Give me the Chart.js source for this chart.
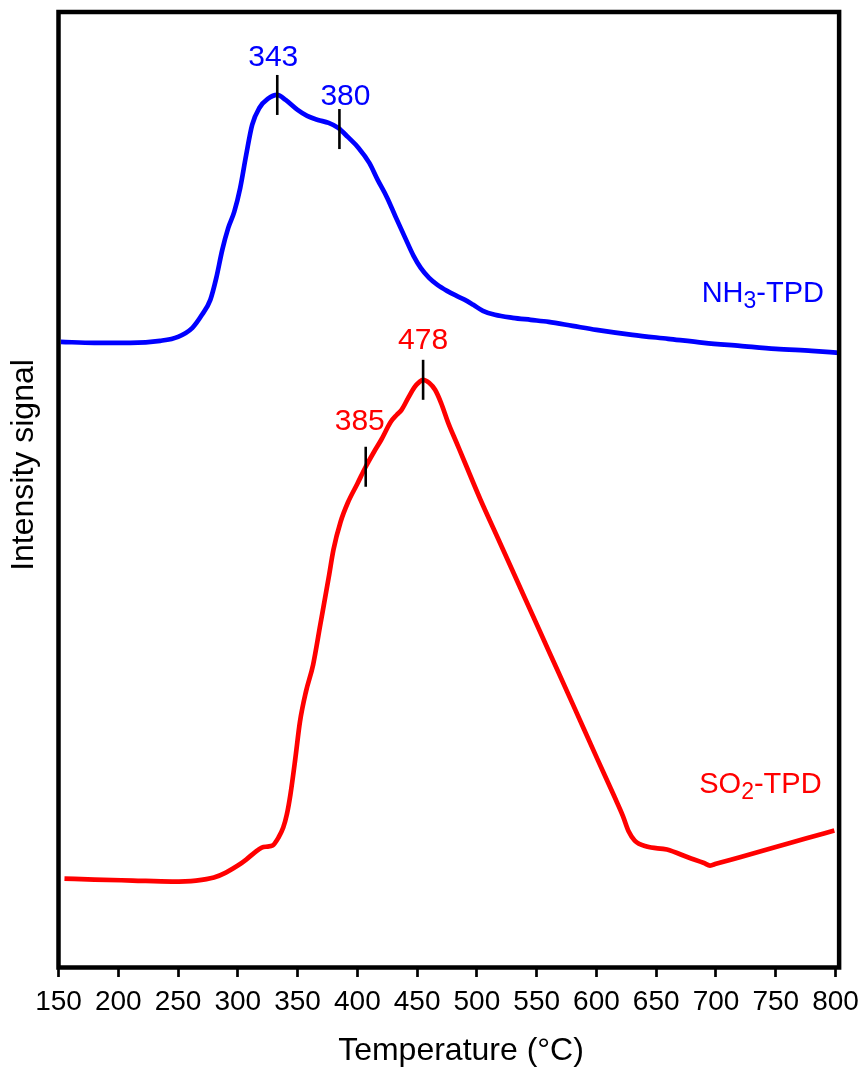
<!DOCTYPE html>
<html>
<head>
<meta charset="utf-8">
<script src="https://cdn.jsdelivr.net/npm/chart.js@4.4.1/dist/chart.umd.min.js"></script>
<style>
  html, body { margin: 0; padding: 0; background: #fff; }
  #wrap { width: 867px; height: 1072px; }
</style>
</head>
<body>
<div id="wrap"><canvas id="tpdChart" width="867" height="1072"></canvas></div>
<script>
// NH3-TPD trace (temperature in °C, signal in arbitrary units)
const nh3Temp = [152, 180, 210, 235, 250, 262, 270, 277, 282, 287, 292, 297, 302, 307, 312, 318, 325, 333,
  340, 350, 358, 367, 376, 384, 392, 401, 410, 417, 425, 432, 440, 447, 453, 460, 467, 475, 483, 490, 497,
  505, 515, 530, 545, 560, 580, 600, 630, 660, 690, 720, 750, 780, 803];
const nh3Signal = [62.6, 62.5, 62.5, 62.7, 63.1, 64.0, 65.3, 66.8, 69.0, 71.8, 74.0, 75.6, 78.0, 81.3, 84.3, 86.0, 86.9, 87.3,
  86.8, 85.8, 85.2, 84.8, 84.5, 84.0, 83.1, 82.0, 80.5, 78.8, 77.0, 75.1, 73.0, 71.2, 70.0, 69.0, 68.3, 67.7, 67.2, 66.8, 66.3,
  65.7, 65.3, 65.0, 64.8, 64.6, 64.2, 63.8, 63.3, 62.9, 62.5, 62.2, 61.9, 61.7, 61.5];

// SO2-TPD trace
const so2Temp = [155, 180, 212, 245, 265, 280, 290, 300, 307, 314, 320, 325, 329, 334, 338, 341, 344, 348, 352, 357,
  363, 369, 376, 380, 386, 392, 400, 407, 414, 420, 428, 433, 437, 443, 448, 452, 455, 460, 465, 470, 476, 483,
  490, 503, 517, 540, 560, 580, 601, 615, 622, 627, 632, 642, 659, 677, 690, 695, 700, 720, 750, 775, 799];
const so2Signal = [8.9, 8.8, 8.7, 8.6, 8.7, 9.0, 9.5, 10.2, 10.8, 11.5, 12.0, 12.1, 12.2, 13.0, 14.0, 15.3, 17.3, 20.8, 24.6, 27.6,
  30.3, 34.3, 39.0, 41.8, 44.6, 46.5, 48.4, 50.1, 51.6, 52.8, 54.6, 55.3, 55.8, 57.1, 58.1, 58.6, 58.8, 58.5, 57.8, 56.5, 54.5, 52.5,
  50.5, 46.8, 43.1, 37.0, 31.7, 26.4, 20.8, 17.1, 15.2, 13.6, 12.7, 12.1, 11.8, 11.0, 10.45, 10.2, 10.37, 11.04, 12.05, 12.9, 13.7];

// x-axis ticks
const tempTicks = [150, 200, 250, 300, 350, 400, 450, 500, 550, 600, 650, 700, 750, 800];

// peak markers: label, temperature of the marker, series
const peakLabels = ["343", "380", "385", "478"];
const peakTemps = [333, 385, 407, 455];
const peakSeries = ["nh3", "nh3", "so2", "so2"];

const BLUE = "#0000ff";
const RED = "#ff0000";
const FONT = "'Liberation Sans', Arial, Helvetica, sans-serif";

function toPoints(xs, ys) {
  return xs.map((x, i) => ({ x: x, y: ys[i] }));
}

function valueAt(xs, ys, t) {
  for (let i = 0; i < xs.length - 1; i++) {
    if (t >= xs[i] && t <= xs[i + 1]) {
      const f = (t - xs[i]) / (xs[i + 1] - xs[i]);
      return ys[i] + f * (ys[i + 1] - ys[i]);
    }
  }
  return ys[ys.length - 1];
}

const markerStyle = {
  nh3: { color: BLUE, xs: nh3Temp, ys: nh3Signal },
  so2: { color: RED, xs: so2Temp, ys: so2Signal }
};
// label offsets in px: dx from marker, gap above marker top
const labelOffsets = [[-4, 9], [6, 4], [-6, 17], [0, 11]];

const annotate = {
  id: "annotate",
  afterDatasetsDraw(chart) {
    const { ctx, chartArea, scales } = chart;
    const x = scales.x, y = scales.y;
    ctx.save();

    // frame
    ctx.strokeStyle = "#000";
    ctx.lineWidth = 4.5;
    ctx.strokeRect(chartArea.left, chartArea.top, chartArea.right - chartArea.left, chartArea.bottom - chartArea.top);

    // axis titles (both sit a bit off the plot centre in the original)
    ctx.font = "32px " + FONT;
    ctx.fillStyle = "#000";
    ctx.textAlign = "center";
    ctx.textBaseline = "middle";
    ctx.fillText("Temperature (°C)", 461, 1051);
    ctx.save();
    ctx.translate(24, 465);
    ctx.rotate(-Math.PI / 2);
    ctx.fillText("Intensity signal", 0, 0);
    ctx.restore();

    // peak markers
    ctx.font = "30px " + FONT;
    ctx.textBaseline = "alphabetic";
    peakTemps.forEach((t, i) => {
      const s = markerStyle[peakSeries[i]];
      const px = x.getPixelForValue(t);
      const py = y.getPixelForValue(valueAt(s.xs, s.ys, t));
      ctx.strokeStyle = "#000";
      ctx.lineWidth = 2.6;
      ctx.beginPath();
      ctx.moveTo(px, py - 20);
      ctx.lineTo(px, py + 20);
      ctx.stroke();
      ctx.fillStyle = s.color;
      ctx.fillText(peakLabels[i], px + labelOffsets[i][0], py - 20 - labelOffsets[i][1]);
    });

    // series names with subscripts
    const names = [
      { parts: ["NH", "3", "-TPD"], color: BLUE, t: 688, v: 66.6 },
      { parts: ["SO", "2", "-TPD"], color: RED, t: 686, v: 17.5 }
    ];
    ctx.textAlign = "left";
    names.forEach(n => {
      let px = x.getPixelForValue(n.t);
      const py = y.getPixelForValue(n.v);
      ctx.fillStyle = n.color;
      n.parts.forEach((p, k) => {
        const sub = k === 1;
        ctx.font = (sub ? "23px " : "29px ") + FONT;
        ctx.fillText(p, px, py + (sub ? 6 : 0));
        px += ctx.measureText(p).width;
      });
    });
    ctx.restore();
  }
};

const ctx = document.getElementById("tpdChart").getContext("2d");
const chart = new Chart(ctx, {
  type: "line",
  data: {
    datasets: [{
      label: "NH3-TPD",
      data: toPoints(nh3Temp, nh3Signal),
      borderColor: BLUE,
      borderWidth: 4.7,
      pointRadius: 0,
      fill: false,
      cubicInterpolationMode: "monotone"
    }, {
      label: "SO2-TPD",
      data: toPoints(so2Temp, so2Signal),
      borderColor: RED,
      borderWidth: 4.7,
      pointRadius: 0,
      fill: false,
      cubicInterpolationMode: "monotone"
    }]
  },
  options: {
    responsive: false,
    animation: false,
    layout: { padding: { top: 12, right: 24.5, left: 0, bottom: 0 } },
    plugins: { legend: { display: false }, tooltip: { enabled: false } },
    scales: {
      x: {
        type: "linear",
        min: 150,
        max: 803,
        afterFit: s => { s.height = 104.5; },
        afterBuildTicks: s => { s.ticks = tempTicks.map(v => ({ value: v })); },
        ticks: {
          color: "#000",
          font: { family: FONT, size: 28 },
          padding: 8,
          maxRotation: 0,
          autoSkip: false
        },
        grid: { drawOnChartArea: false, tickLength: 9.5, tickWidth: 2.7, tickColor: "#000" },
        border: { display: false },
        title: { display: false }
      },
      y: {
        min: 0,
        max: 95.6,
        afterFit: s => { s.width = 58.5; },
        ticks: { display: false },
        grid: { display: false, drawTicks: false },
        border: { display: false },
        title: { display: false }
      }
    }
  },
  plugins: [annotate]
});
</script>
</body>
</html>
